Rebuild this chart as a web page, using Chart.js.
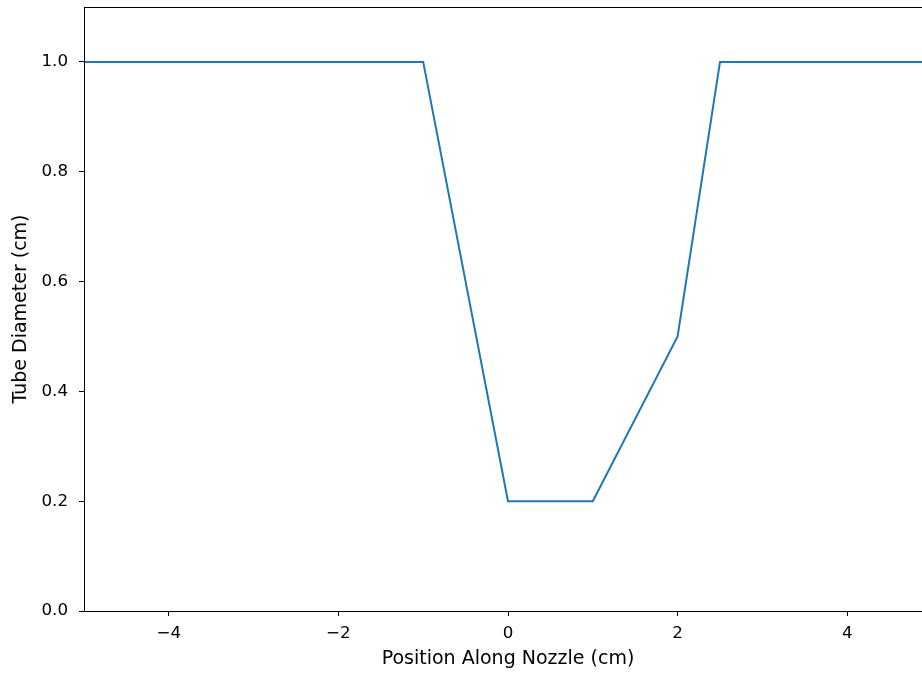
<!DOCTYPE html>
<html>
<head>
<meta charset="utf-8">
<script src="https://cdn.jsdelivr.net/npm/chart.js@4.4.0/dist/chart.umd.min.js"></script>
<style>
  html, body { margin: 0; padding: 0; background: #fff; overflow: hidden; }
  #wrap { width: 940px; height: 677px; }
</style>
</head>
<body>
<div id="wrap"><canvas id="nozzle" width="940" height="677"></canvas></div>
<script>
// tube profile along the nozzle
const positions = [-5, -1, 0, 1, 2, 2.5, 5];
const diameters = [1.0, 1.0, 0.2, 0.2, 0.5, 1.0, 1.0];

const xTicks = [-4, -2, 0, 2, 4];
const yTicks = [0.0, 0.2, 0.4, 0.6, 0.8, 1.0];

const tickFont = { family: 'DejaVu Sans', size: 16.7 };
const titleFont = { family: 'DejaVu Sans', size: 19 };

// draw the full axes frame like matplotlib
const framePlugin = {
  id: 'frame',
  afterDraw(chart) {
    const { ctx, chartArea: a } = chart;
    ctx.save();
    ctx.strokeStyle = '#000';
    ctx.lineWidth = 1;
    ctx.strokeRect(Math.round(a.left) + 0.5, Math.round(a.top) + 0.5,
      Math.round(a.right - a.left), Math.round(a.bottom - a.top));
    ctx.restore();
  }
};

new Chart(document.getElementById('nozzle'), {
  type: 'line',
  data: {
    datasets: [{
      data: positions.map((x, i) => ({ x: x, y: diameters[i] })),
      borderColor: '#1f77b4',
      borderWidth: 2,
      pointRadius: 0,
      tension: 0,
      fill: false
    }]
  },
  options: {
    responsive: false,
    animation: false,
    layout: { padding: { top: 7, right: 8, left: 0, bottom: 0 } },
    plugins: { legend: { display: false }, tooltip: { enabled: false } },
    scales: {
      x: {
        type: 'linear',
        min: -5,
        max: 5,
        afterBuildTicks: s => { s.ticks = xTicks.map(v => ({ value: v })); },
        afterFit: s => { s.height = 66; s.paddingLeft = 0; s.paddingRight = 0; },
        border: { display: false },
        grid: { drawOnChartArea: false, tickLength: 5, color: '#000' },
        ticks: {
          color: '#000', font: tickFont, padding: 8, maxRotation: 0,
          callback: v => String(v).replace('-', '\u2212')
        },
        title: { display: true, text: 'Position Along Nozzle (cm)', color: '#000', font: titleFont, padding: { top: 0, bottom: 7 } }
      },
      y: {
        min: 0,
        max: 1.1,
        afterBuildTicks: s => { s.ticks = yTicks.map(v => ({ value: v })); },
        afterFit: s => { s.width = 84; s.paddingTop = 0; s.paddingBottom = 0; },
        border: { display: false },
        grid: { drawOnChartArea: false, tickLength: 5, color: '#000' },
        ticks: {
          color: '#000', font: tickFont, padding: 11,
          callback: v => Number(v).toFixed(1)
        },
        title: { display: true, text: 'Tube Diameter (cm)', color: '#000', font: titleFont, padding: { top: 10, bottom: 0 } }
      }
    }
  },
  plugins: [framePlugin]
});
</script>
</body>
</html>
